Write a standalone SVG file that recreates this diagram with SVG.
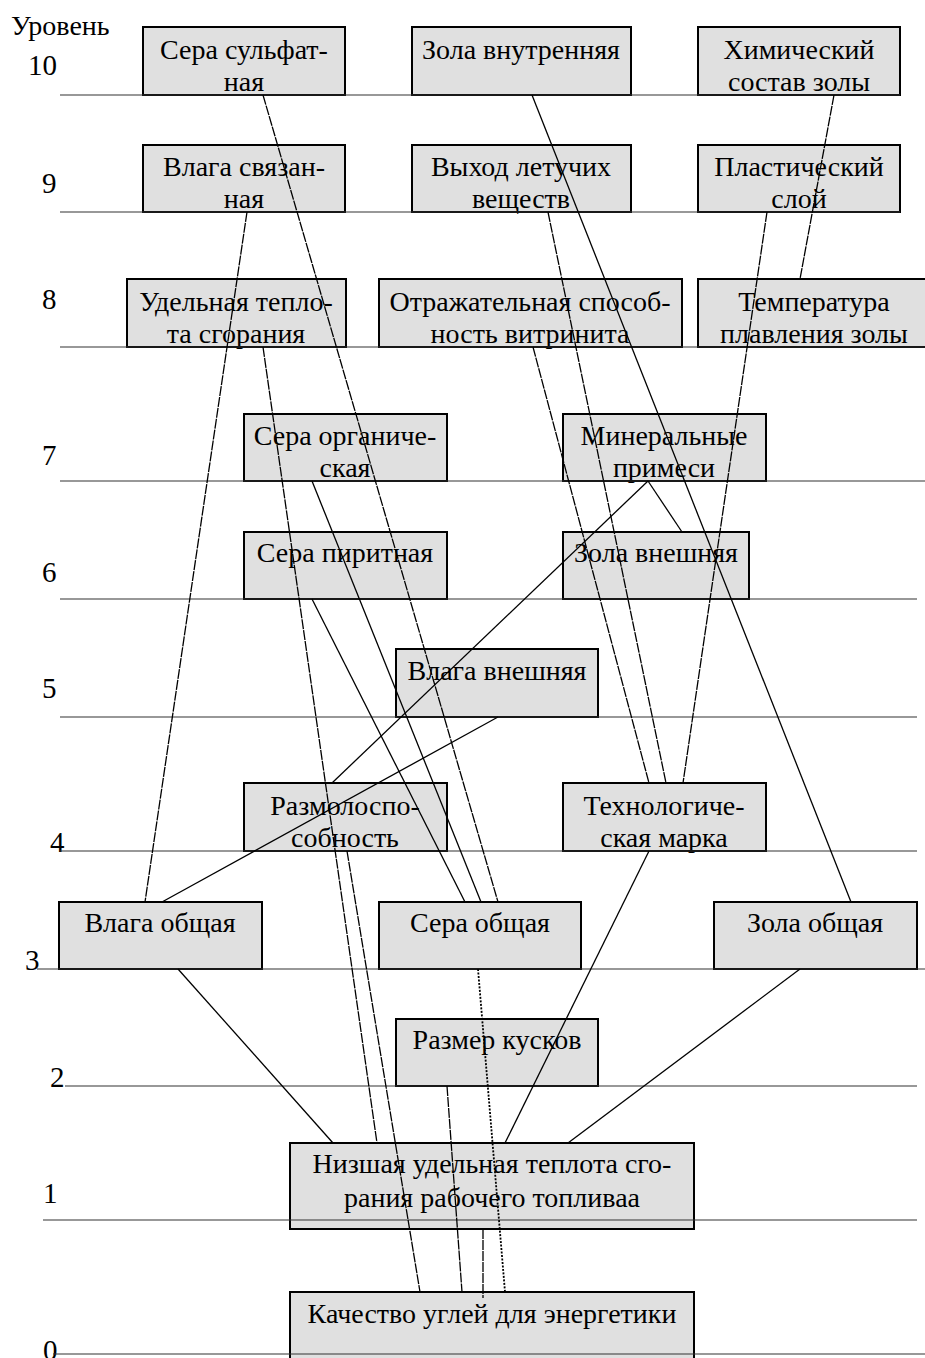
<svg xmlns="http://www.w3.org/2000/svg" width="925" height="1358" viewBox="0 0 925 1358">
<style>
.box rect{fill:#e0e0e0;stroke:#000;stroke-width:2}
.box text{font-family:"Liberation Serif","Times New Roman",serif;font-size:28px;fill:#000;text-anchor:middle}
.lvl{font-family:"Liberation Serif","Times New Roman",serif;font-size:29px;fill:#000}
.lv line{stroke:#333;stroke-width:1.2}
.conn line{stroke:#000;stroke-width:1.3;fill:none}
.conn line.d{stroke-dasharray:10 1}
.conn line.dot{stroke-dasharray:2 1.5;stroke-width:1.8}
</style>
<rect width="925" height="1358" fill="#fff"/>

<g id="labels">
<text x="11" y="35" font-family="Liberation Serif, serif" font-size="28">Уровень</text>
<text class="lvl" x="28" y="75">10</text>
<text class="lvl" x="42" y="193">9</text>
<text class="lvl" x="42" y="309">8</text>
<text class="lvl" x="42" y="465">7</text>
<text class="lvl" x="42" y="582">6</text>
<text class="lvl" x="42" y="698">5</text>
<text class="lvl" x="50" y="852">4</text>
<text class="lvl" x="25" y="970">3</text>
<text class="lvl" x="50" y="1087">2</text>
<text class="lvl" x="43" y="1203">1</text>
<text class="lvl" x="43" y="1360">0</text>
</g>

<g id="n_sulfat" class="box"><rect x="143" y="27" width="202" height="68"/><text x="244" y="59">Сера сульфат-</text><text x="244" y="91">ная</text></g>
<g id="n_zola_vn" class="box"><rect x="412" y="27" width="219" height="68"/><text x="521" y="59">Зола внутренняя</text></g>
<g id="n_chem" class="box"><rect x="698" y="27" width="202" height="68"/><text x="799" y="59">Химический</text><text x="799" y="91">состав золы</text></g>

<g id="n_vlaga_sv" class="box"><rect x="143" y="145" width="202" height="67"/><text x="244" y="176">Влага связан-</text><text x="244" y="208">ная</text></g>
<g id="n_vyhod" class="box"><rect x="412" y="145" width="219" height="67"/><text x="521" y="176">Выход летучих</text><text x="521" y="208">веществ</text></g>
<g id="n_plast" class="box"><rect x="698" y="145" width="202" height="67"/><text x="799" y="176">Пластический</text><text x="799" y="208">слой</text></g>

<g id="n_udel" class="box"><rect x="127" y="279" width="219" height="68"/><text x="236" y="311">Удельная тепло-</text><text x="236" y="343">та сгорания</text></g>
<g id="n_otr" class="box"><rect x="379" y="279" width="303" height="68"/><text x="530" y="311">Отражательная способ-</text><text x="530" y="343">ность витринита</text></g>
<g id="n_temp" class="box"><rect x="698" y="279" width="232" height="68"/><text x="814" y="311">Температура</text><text x="814" y="343">плавления золы</text></g>

<g id="n_sera_org" class="box"><rect x="244" y="414" width="203" height="67"/><text x="345" y="445">Сера органиче-</text><text x="345" y="477">ская</text></g>
<g id="n_miner" class="box"><rect x="563" y="414" width="203" height="67"/><text x="664" y="445">Минеральные</text><text x="664" y="477">примеси</text></g>

<g id="n_sera_pir" class="box"><rect x="244" y="532" width="203" height="67"/><text x="345" y="562">Сера пиритная</text></g>
<g id="n_zola_vnesh" class="box"><rect x="563" y="532" width="186" height="67"/><text x="656" y="562">Зола внешняя</text></g>

<g id="n_vlaga_vnesh" class="box"><rect x="396" y="649" width="202" height="68"/><text x="497" y="680">Влага внешняя</text></g>

<g id="n_razmol" class="box"><rect x="244" y="783" width="203" height="68"/><text x="345" y="815">Размолоспо-</text><text x="345" y="847">собность</text></g>
<g id="n_tech" class="box"><rect x="563" y="783" width="203" height="68"/><text x="664" y="815">Технологиче-</text><text x="664" y="847">ская марка</text></g>

<g id="n_vlaga_ob" class="box"><rect x="59" y="902" width="203" height="67"/><text x="160" y="932">Влага общая</text></g>
<g id="n_sera_ob" class="box"><rect x="379" y="902" width="202" height="67"/><text x="480" y="932">Сера общая</text></g>
<g id="n_zola_ob" class="box"><rect x="714" y="902" width="203" height="67"/><text x="815" y="932">Зола общая</text></g>

<g id="n_razmer" class="box"><rect x="396" y="1019" width="202" height="67"/><text x="497" y="1049">Размер кусков</text></g>

<g id="n_nizsh" class="box"><rect x="290" y="1143" width="404" height="86"/><text x="492" y="1173">Низшая удельная теплота сго-</text><text x="492" y="1207">рания рабочего топливаа</text></g>

<g id="n_kach" class="box"><rect x="290" y="1292" width="404" height="80"/><text x="492" y="1323">Качество углей для энергетики</text></g>

<g id="levels" class="lv">
<line x1="60" y1="95" x2="900" y2="95"/>
<line x1="60" y1="212" x2="900" y2="212"/>
<line x1="60" y1="347" x2="925" y2="347"/>
<line x1="60" y1="481" x2="925" y2="481"/>
<line x1="60" y1="599" x2="917" y2="599"/>
<line x1="60" y1="717" x2="917" y2="717"/>
<line x1="60" y1="851" x2="917" y2="851"/>
<line x1="37" y1="969" x2="925" y2="969"/>
<line x1="65" y1="1086" x2="917" y2="1086"/>
<line x1="43" y1="1220" x2="917" y2="1220"/>
<line x1="53" y1="1354" x2="925" y2="1354"/>
</g>

<g id="connectors" class="conn">
<line class="d" x1="263" y1="95" x2="498" y2="902"/>
<line class="d" x1="247" y1="212" x2="145" y2="902"/>
<line class="d" x1="263" y1="347" x2="377" y2="1143"/>
<line class="d" x1="347" y1="851" x2="420" y2="1292"/>
<line x1="312" y1="481" x2="481" y2="902"/>
<line x1="312" y1="599" x2="465" y2="902"/>
<line x1="498" y1="717" x2="162" y2="902"/>
<line x1="648" y1="481" x2="332" y2="783"/>
<line x1="648" y1="481" x2="682" y2="532"/>
<line x1="532" y1="95" x2="851" y2="902"/>
<line class="d" x1="834" y1="95" x2="800" y2="279"/>
<line class="d" x1="767" y1="212" x2="683" y2="783"/>
<line class="d" x1="548" y1="212" x2="666" y2="783"/>
<line class="d" x1="533" y1="347" x2="649" y2="783"/>
<line x1="178" y1="969" x2="333" y2="1143"/>
<line x1="800" y1="969" x2="568" y2="1143"/>
<line x1="649" y1="851" x2="505" y2="1143"/>
<line class="dot" x1="478" y1="969" x2="505" y2="1292"/>
<line class="d" x1="447" y1="1086" x2="462" y2="1292"/>
<line class="d" x1="483" y1="1229" x2="483" y2="1298"/>
</g>
</svg>
